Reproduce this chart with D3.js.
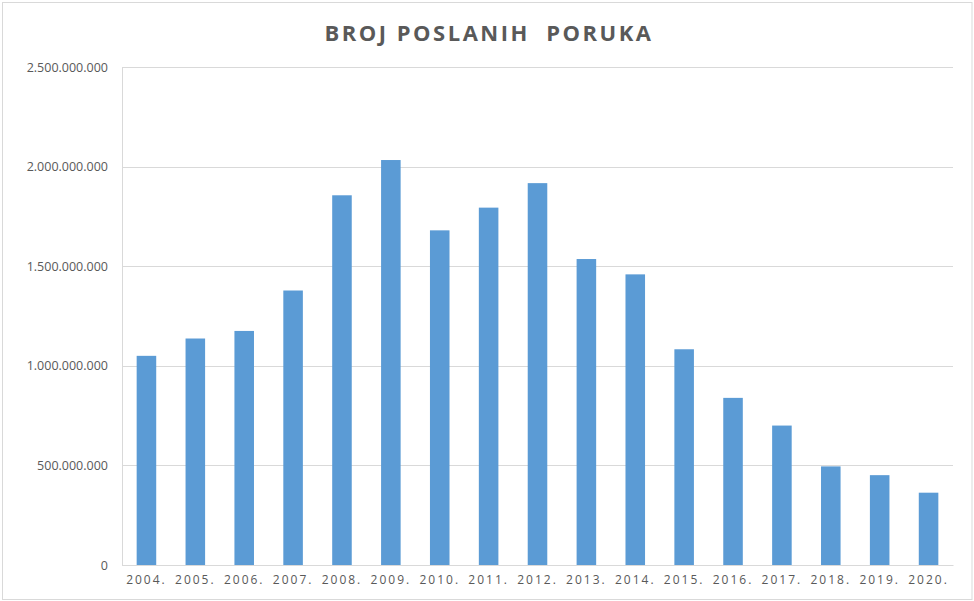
<!DOCTYPE html>
<html>
<head>
<meta charset="utf-8">
<script src="https://cdn.jsdelivr.net/npm/d3@7"></script>
<style>
  body { margin: 0; background: #fff; }
  svg text { font-family: "Open Sans", "Noto Sans", sans-serif; }
</style>
</head>
<body>
<div id="chart"></div>
<script>
const years = ["2004.", "2005.", "2006.", "2007.", "2008.", "2009.", "2010.", "2011.", "2012.",
    "2013.", "2014.", "2015.", "2016.", "2017.", "2018.", "2019.", "2020."];
const messages = [1050000000, 1137000000, 1175000000, 1378000000, 1856000000, 2033000000, 1680000000,
    1794000000, 1917000000, 1536000000, 1459000000, 1083000000, 839000000, 700000000, 495000000,
    451000000, 363000000];
const yTicks = [0, 500000000, 1000000000, 1500000000, 2000000000, 2500000000];
const title = "BROJ POSLANIH  PORUKA";

function formatDots(v) {
    return d3.format(",")(v).replace(/,/g, ".");
}

function drawSvg() {
    const W = 974, H = 601;
    const margin = { top: 67, right: 21, bottom: 36, left: 122 },
        width = W - margin.left - margin.right,
        height = H - margin.top - margin.bottom;

    const root = d3.select("#chart")
        .append("svg")
        .attr("width", W)
        .attr("height", H);

    // outer frame
    root.append("rect")
        .attr("x", 2.5).attr("y", 2.5)
        .attr("width", W - 4.5).attr("height", H - 4)
        .attr("fill", "#fff")
        .attr("stroke", "#d9d9d9");

    root.append("text")
        .attr("x", 489).attr("y", 41)
        .attr("text-anchor", "middle")
        .attr("font-size", "22px")
        .attr("font-weight", "bold")
        .attr("letter-spacing", "2.5px")
        .attr("fill", "#595959")
        .style("white-space", "pre")
        .text(title);

    const svg = root.append("g")
        .attr("transform", "translate(" + margin.left + "," + margin.top + ")");

    const y = d3.scaleLinear()
        .domain([0, 2500000000])
        .range([height, 0]);

    const x = d3.scaleBand()
        .domain(years)
        .range([0, width])
        .paddingInner(0.6)
        .paddingOuter(0.3);

    // gridlines
    svg.append("g")
        .selectAll("line")
        .data(yTicks)
        .enter()
        .append("line")
        .attr("x1", 0).attr("x2", width)
        .attr("y1", d => Math.round(y(d)) + 0.5)
        .attr("y2", d => Math.round(y(d)) + 0.5)
        .attr("stroke", "#d9d9d9");

    // left axis line
    svg.append("line")
        .attr("x1", 0.5).attr("x2", 0.5)
        .attr("y1", 0).attr("y2", height)
        .attr("stroke", "#d9d9d9");

    // Y axis labels
    const yAxis = svg.append("g")
        .call(d3.axisLeft(y).tickValues(yTicks).tickFormat(formatDots).tickSize(0).tickPadding(14));
    yAxis.select(".domain").remove();
    yAxis.selectAll("text")
        .attr("font-size", "12.5px")
        .attr("fill", "#595959");

    // Bars
    svg.selectAll("rect.bar")
        .data(messages)
        .enter()
        .append("rect")
        .attr("class", "bar")
        .attr("x", (d, i) => x(years[i]))
        .attr("y", d => y(d))
        .attr("width", x.bandwidth())
        .attr("height", d => height - y(d))
        .attr("fill", "#5b9bd5");

    // X axis
    const xAxis = svg.append("g")
        .attr("transform", "translate(0," + height + ")")
        .call(d3.axisBottom(x.copy().paddingInner(0).paddingOuter(0)).tickSize(0).tickPadding(10));
    xAxis.select(".domain").attr("stroke", "#d9d9d9");
    xAxis.selectAll("text")
        .attr("font-size", "12px")
        .attr("letter-spacing", "2px")
        .attr("fill", "#595959");
}

drawSvg();
</script>
</body>
</html>
